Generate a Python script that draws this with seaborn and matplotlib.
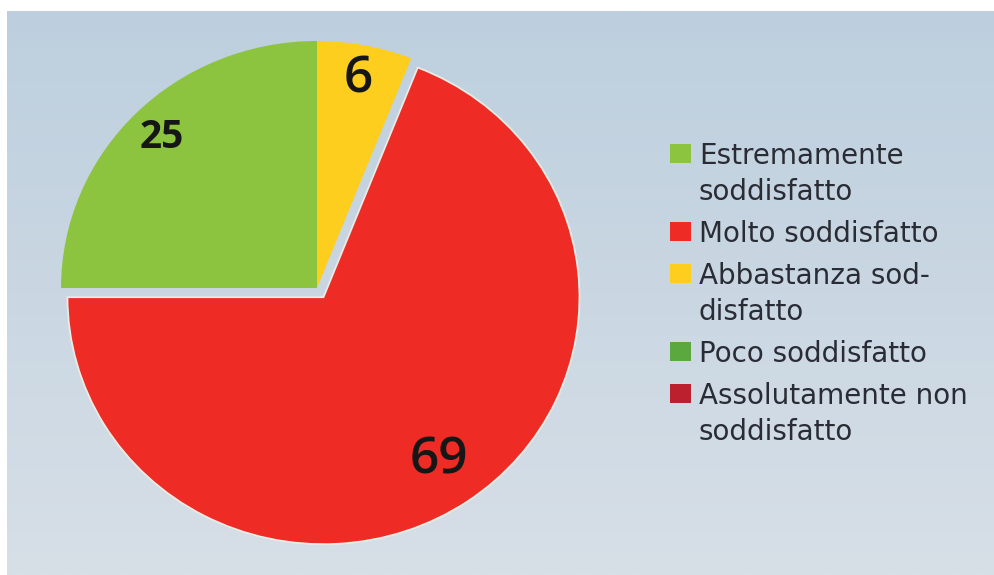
import numpy as np
import matplotlib
matplotlib.use("Agg")
import matplotlib.pyplot as plt
from matplotlib.patches import Rectangle
import seaborn as sns

# Survey answers: how satisfied respondents are
categories = [
    "Estremamente\nsoddisfatto",
    "Molto soddisfatto",
    "Abbastanza sod-\ndisfatto",
    "Poco soddisfatto",
    "Assolutamente non\nsoddisfatto",
]
values = [25, 69, 6, 0, 0]
colors = ["#8CC43F", "#EE2B25", "#FECE1E", "#5AA83E", "#BC1F2E"]
explode = [0, 0.045, 0, 0, 0]

# label sizes / weights / radial distances per wedge
label_size = [28, 37, 37, 28, 28]
label_weight = ["bold", "semibold", "semibold", "normal", "normal"]
label_dist = [0.86, 0.80, 0.86, 0.85, 0.85]

sns.set_theme(style="white")
plt.rcParams["font.family"] = ["DejaVu Sans"]

W, H = 995, 575
fig = plt.figure(figsize=(W / 100, H / 100), dpi=100, facecolor="white")

# soft vertical gradient panel behind the chart
bg = fig.add_axes([7 / W, 0, (W - 7) / W, (H - 11) / H])
top = np.array([189, 207, 222]) / 255
bot = np.array([215, 223, 231]) / 255
t = np.linspace(0, 1, 256)[:, None, None]
grad = top * (1 - t) + bot * t
bg.imshow(grad, aspect="auto", extent=(0, 1, 0, 1))
bg.set_axis_off()

# pie axes: slightly wider than tall
cx, cy = 317, H - 288          # centre in pixels (from bottom)
rx, ry = 256, 247              # radii in pixels
lim = 1.25
ax = fig.add_axes([(cx - lim * rx) / W, (cy - lim * ry) / H,
                   2 * lim * rx / W, 2 * lim * ry / H])
ax.patch.set_alpha(0)

wedges, _ = ax.pie(values, colors=colors, explode=explode, startangle=90,
                   counterclock=True,
                   wedgeprops=dict(linewidth=0))
wedges[1].set_edgecolor("#E9ECE4")
wedges[1].set_linewidth(1.3)

for w, v, fs, fw, d in zip(wedges, values, label_size, label_weight, label_dist):
    if v == 0:
        continue
    mid = np.deg2rad((w.theta1 + w.theta2) / 2)
    x0, y0 = w.center
    ax.text(x0 + d * np.cos(mid), y0 + d * np.sin(mid), f"{v}",
            ha="center", va="center", fontsize=fs, fontweight=fw,
            color="#161616", family=["Open Sans", "DejaVu Sans"])

ax.set_aspect("auto")
ax.set_xlim(-lim, lim)
ax.set_ylim(-lim, lim)
ax.set_axis_off()

# legend column on the right, drawn in pixel coordinates
lg = fig.add_axes([0, 0, 1, 1])
lg.set_xlim(0, W)
lg.set_ylim(H, 0)
lg.set_axis_off()
lg.patch.set_alpha(0)

y = 164
line_step, gap = 36, 6
for lab, col in zip(categories, colors):
    lg.add_patch(Rectangle((670, y - 20), 21, 19, facecolor=col, edgecolor="none"))
    for i, part in enumerate(lab.split("\n")):
        lg.text(699, y + i * line_step, part, fontsize=20, color="#2A2C35",
                va="baseline", ha="left")
    y += line_step * (lab.count("\n") + 1) + gap

fig.savefig("out.png", dpi=100, facecolor="white")
